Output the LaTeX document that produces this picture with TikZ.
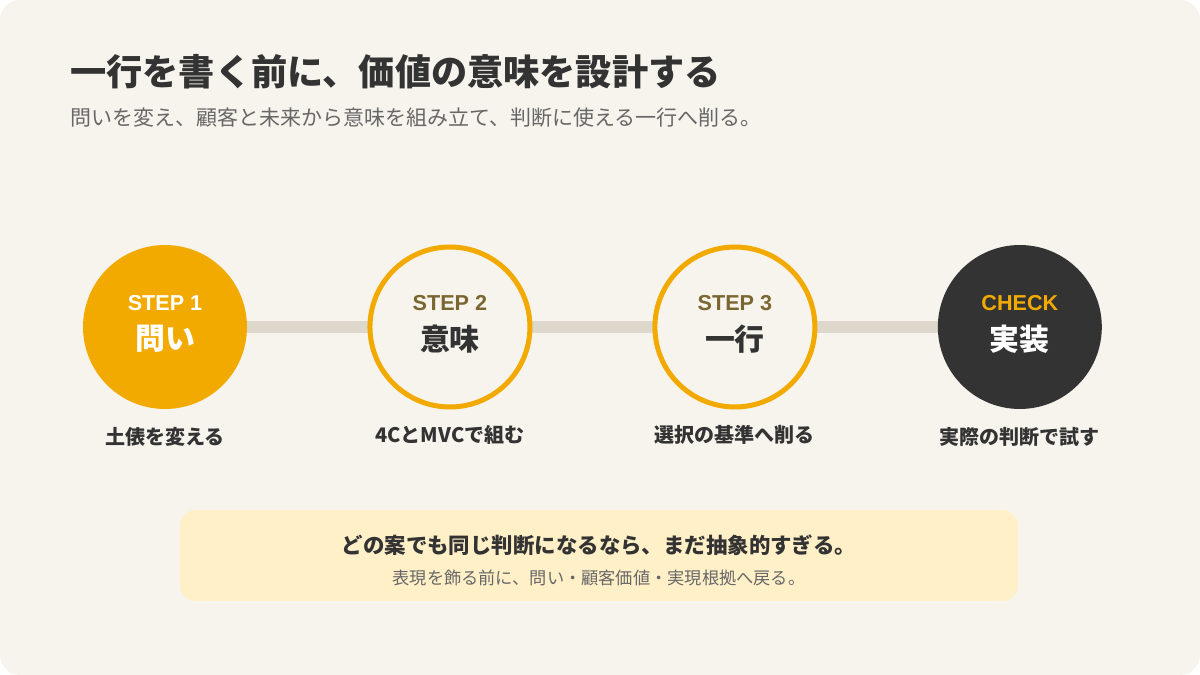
\documentclass[tikz,border=0pt]{standalone}
\usepackage{fontspec}
\setmainfont{Noto Sans CJK JP}[BoldFont={Noto Sans CJK JP Black}]
\newfontfamily\latinfont{Liberation Sans}
\usetikzlibrary{positioning, backgrounds}

\definecolor{cardbg}{HTML}{F7F4ED}
\definecolor{accent}{HTML}{F2AA00}
\definecolor{ink}{HTML}{333333}
\definecolor{olive}{HTML}{7A6630}
\definecolor{muted}{HTML}{676767}
\definecolor{trackgray}{HTML}{DDD8CB}
\definecolor{notebg}{HTML}{FFF0C8}

\begin{document}
\begin{tikzpicture}[
    x=0.02cm, y=-0.02cm,
    stepfill/.style={circle, fill=accent, minimum size=3.28cm, inner sep=0pt, outer sep=0pt},
    stepring/.style={circle, draw=accent, line width=0.1cm, fill=cardbg, minimum size=3.2cm, inner sep=0pt, outer sep=0pt},
    stepdark/.style={circle, fill=ink, minimum size=3.28cm, inner sep=0pt, outer sep=0pt},
    tag/.style={font=\latinfont\bfseries\fontsize{12.3}{14}\selectfont, inner sep=0pt},
    word/.style={font=\bfseries\fontsize{17}{20}\selectfont, inner sep=0pt},
    caption/.style={font=\bfseries\fontsize{11.4}{13}\selectfont, text=ink, inner sep=0pt},
    track/.style={line width=0.24cm, draw=trackgray},
    ]
	\useasboundingbox (0,0) rectangle (1200,675);

	% Heading
	\node[anchor=west, inner sep=0pt, text=ink, font=\bfseries\fontsize{20.6}{24}\selectfont] (title) at (70,72) {一行を書く前に、価値の意味を設計する};
	\node[anchor=west, inner sep=0pt, text=muted, font=\fontsize{11.95}{14}\selectfont] (subtitle) at (70,118) {問いを変え、顧客と未来から意味を組み立て、判断に使える一行へ削る。};

	% Step circles
	\node[stepfill] (s1) at (165,327) {};
	\node[stepring, right=5.74cm of s1.west] (s2) {};
	\node[stepring, right=5.7cm of s2.west] (s3) {};
	\node[stepdark, right=5.66cm of s3.west] (chk) {};

	% Step texts
	\node[tag, text=white] (s1tag) at ([yshift=0.48cm]s1.center) {STEP 1};
	\node[word, text=white] (s1word) at ([yshift=-0.24cm]s1.center) {問い};
	\node[tag, text=olive] (s2tag) at ([yshift=0.48cm]s2.center) {STEP 2};
	\node[word, text=ink] (s2word) at ([yshift=-0.24cm]s2.center) {意味};
	\node[tag, text=olive] (s3tag) at ([yshift=0.48cm]s3.center) {STEP 3};
	\node[word, text=ink] (s3word) at ([yshift=-0.24cm]s3.center) {一行};
	\node[tag, text=accent] (chktag) at ([yshift=0.48cm]chk.center) {CHECK};
	\node[word, text=white] (chkword) at ([yshift=-0.24cm]chk.center) {実装};

	% Captions
	\node[caption, below=0.36cm of s1] (s1cap) {土俵を変える};
	\node[caption, below=0.36cm of s2] (s2cap) {4CとMVCで組む};
	\node[caption, below=0.36cm of s3] (s3cap) {選択の基準へ削る};
	\node[caption, below=0.36cm of chk] (chkcap) {実際の判断で試す};

	% Note
	\node[fill=notebg, rounded corners=0.32cm, minimum width=16.76cm, minimum height=1.82cm, inner sep=0pt] (note) at (599,555.5) {};
	\node[inner sep=0pt, text=ink, font=\bfseries\fontsize{12.2}{14}\selectfont] (notemain) at ([yshift=0.21cm]note.center) {どの案でも同じ判断になるなら、まだ抽象的すぎる。};
	\node[inner sep=0pt, text=muted, font=\fontsize{9.8}{12}\selectfont] (notesub) at ([yshift=-0.45cm]note.center) {表現を飾る前に、問い・顧客価値・実現根拠へ戻る。};

	% Card and track
	\begin{pgfonlayer}{background}
	\fill[cardbg, rounded corners=0.4cm] (0,0) rectangle (1200,675);
	\draw[track] (s1) -- (chk);
	\end{pgfonlayer}
\end{tikzpicture}
\end{document}
